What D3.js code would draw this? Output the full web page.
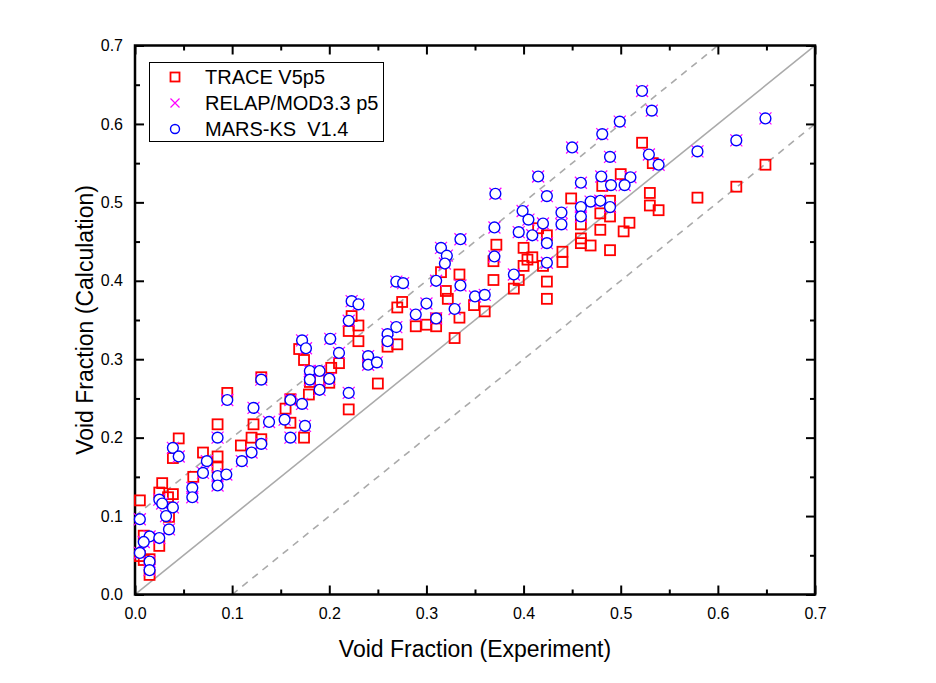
<!DOCTYPE html>
<html>
<head>
<meta charset="utf-8">
<script src="https://cdn.jsdelivr.net/npm/d3@7"></script>
<style>
  html, body { margin: 0; padding: 0; background: #fff; }
  text { font-family: "Liberation Sans", Arial, sans-serif; fill: #000; }
</style>
</head>
<body>
<svg id="chart" width="936" height="683"></svg>
<script>
// ---- Data ----
const traceX = [0.522,0.533,0.500,0.481,0.449,0.489,0.479,0.489,0.459,0.479,0.509,0.503,0.530,0.530,0.539,0.579,0.619,0.649,
  0.459,0.459,0.469,0.489,0.424,0.440,0.440,0.424,0.424,0.415,0.372,0.400,0.409,0.404,0.400,0.420,0.369,0.369,0.395,0.390,
  0.315,0.334,0.320,0.322,0.275,0.270,0.349,0.360,0.334,0.310,0.300,0.289,0.310,0.329,
  0.223,0.230,0.220,0.230,0.270,0.260,0.174,0.202,0.210,0.169,0.180,0.190,0.200,0.179,0.250,0.220,0.174,0.240,
  0.130,0.095,0.155,0.160,0.122,0.085,0.160,0.045,0.039,0.070,0.085,0.109,0.120,0.130,0.085,0.060,
  0.028,0.025,0.039,0.034,0.005,0.035,0.009,0.025,0.005,0.009,0.015,0.015];
const traceY = [0.576,0.550,0.536,0.521,0.505,0.502,0.486,0.482,0.472,0.465,0.474,0.463,0.512,0.496,0.490,0.506,0.520,0.548,
  0.454,0.448,0.445,0.439,0.458,0.437,0.424,0.399,0.377,0.467,0.446,0.442,0.430,0.427,0.419,0.419,0.425,0.401,0.401,0.390,
  0.411,0.408,0.387,0.377,0.373,0.366,0.369,0.361,0.353,0.352,0.344,0.342,0.342,0.327,
  0.355,0.343,0.336,0.323,0.319,0.316,0.299,0.289,0.295,0.313,0.271,0.273,0.270,0.255,0.269,0.236,0.200,0.297,
  0.277,0.257,0.237,0.219,0.217,0.217,0.249,0.199,0.174,0.181,0.176,0.190,0.200,0.198,0.162,0.150,
  0.142,0.130,0.128,0.124,0.120,0.099,0.075,0.062,0.049,0.044,0.045,0.025];

const marsX = [0.522,0.532,0.499,0.481,0.450,0.489,0.649,0.619,0.579,0.529,0.539,0.510,0.480,0.490,0.504,0.459,0.424,0.415,
  0.469,0.479,0.459,0.489,0.439,0.439,0.459,0.420,0.424,0.424,0.371,0.399,0.405,0.370,0.395,0.409,0.335,0.315,0.321,0.319,
  0.370,0.390,0.310,0.335,0.269,0.276,0.350,0.360,0.300,0.289,0.329,0.269,0.310,0.223,0.230,0.220,0.260,0.260,0.201,0.172,
  0.176,0.210,0.240,0.240,0.249,0.180,0.190,0.180,0.200,0.190,0.220,0.172,0.175,0.130,0.160,0.095,0.122,0.138,0.154,0.160,
  0.085,0.039,0.045,0.074,0.070,0.085,0.085,0.094,0.110,0.120,0.130,0.059,0.059,0.025,0.028,0.039,0.032,0.035,0.005,
  0.015,0.025,0.009,0.005,0.015,0.015];
const marsY = [0.642,0.617,0.603,0.587,0.570,0.558,0.607,0.579,0.565,0.561,0.548,0.532,0.533,0.522,0.522,0.525,0.508,0.533,
  0.501,0.502,0.494,0.494,0.487,0.472,0.482,0.473,0.448,0.423,0.511,0.489,0.478,0.468,0.462,0.458,0.453,0.442,0.432,0.422,
  0.431,0.408,0.400,0.394,0.399,0.397,0.380,0.382,0.371,0.357,0.364,0.341,0.352,0.374,0.370,0.349,0.332,0.323,0.326,0.324,
  0.314,0.308,0.304,0.293,0.296,0.285,0.285,0.274,0.275,0.261,0.257,0.243,0.215,0.274,0.248,0.248,0.238,0.220,0.223,0.200,
  0.200,0.187,0.176,0.170,0.155,0.151,0.139,0.153,0.170,0.181,0.192,0.136,0.124,0.121,0.116,0.111,0.100,0.083,0.096,
  0.074,0.072,0.067,0.053,0.042,0.031];

// RELAP/MOD3.3 results coincide with the MARS-KS points in the picture
const relapX = marsX.slice();
const relapY = marsY.slice();

const majorTicks = [0.0,0.1,0.2,0.3,0.4,0.5,0.6,0.7];
const minorTicks = [0.05,0.15,0.25,0.35,0.45,0.55,0.65];
const refLines = [ {offset: 0, dashed: false}, {offset: 0.1, dashed: true}, {offset: -0.1, dashed: true} ];
const legendNames = ["TRACE V5p5", "RELAP/MOD3.3 p5", "MARS-KS  V1.4"];

// ---- Drawing ----
const svg = d3.select("#chart");
svg.append("rect").attr("width", 936).attr("height", 683).attr("fill", "#fff");

const x = d3.scaleLinear().domain([0, 0.7]).range([135, 815]);
const y = d3.scaleLinear().domain([0, 0.7]).range([594.5, 45.5]);

const trace = traceX.map((v, i) => ({x: v, y: traceY[i]}));
const relap = relapX.map((v, i) => ({x: v, y: relapY[i]}));
const mars = marsX.map((v, i) => ({x: v, y: marsY[i]}));

// reference lines
svg.append("clipPath").attr("id", "clip").append("rect")
  .attr("x", 135).attr("y", 45.5).attr("width", 680).attr("height", 549);
const lineG = svg.append("g").attr("clip-path", "url(#clip)");
refLines.forEach(r => {
  const x0 = Math.max(0, -r.offset), x1 = Math.min(0.7, 0.7 - r.offset);
  lineG.append("line")
    .attr("x1", x(x0)).attr("y1", y(x0 + r.offset))
    .attr("x2", x(x1)).attr("y2", y(x1 + r.offset))
    .attr("stroke", "#aaaaaa").attr("stroke-width", 1.6)
    .attr("stroke-dasharray", r.dashed ? "7,6" : null);
});

const fmt = d3.format(".1f");
function styleAxis(g) {
  g.select(".domain").remove();
  g.selectAll(".tick line").attr("stroke", "#000").attr("stroke-width", 2);
  g.selectAll(".tick text").attr("font-size", 16).attr("fill", "#000");
}
// bottom
svg.append("g").attr("transform", "translate(0,594.5)")
  .call(d3.axisBottom(x).tickValues(majorTicks).tickSize(-9).tickPadding(13).tickFormat(fmt)).call(styleAxis);
svg.append("g").attr("transform", "translate(0,594.5)")
  .call(d3.axisBottom(x).tickValues(minorTicks).tickSize(-5).tickFormat("")).call(styleAxis);
// top
svg.append("g").attr("transform", "translate(0,45.5)")
  .call(d3.axisTop(x).tickValues(majorTicks).tickSize(-9).tickFormat("")).call(styleAxis);
svg.append("g").attr("transform", "translate(0,45.5)")
  .call(d3.axisTop(x).tickValues(minorTicks).tickSize(-5).tickFormat("")).call(styleAxis);
// left
svg.append("g").attr("transform", "translate(135,0)")
  .call(d3.axisLeft(y).tickValues(majorTicks).tickSize(-9).tickPadding(12).tickFormat(fmt)).call(styleAxis);
svg.append("g").attr("transform", "translate(135,0)")
  .call(d3.axisLeft(y).tickValues(minorTicks).tickSize(-5).tickFormat("")).call(styleAxis);
// right
svg.append("g").attr("transform", "translate(815,0)")
  .call(d3.axisRight(y).tickValues(majorTicks).tickSize(-9).tickFormat("")).call(styleAxis);
svg.append("g").attr("transform", "translate(815,0)")
  .call(d3.axisRight(y).tickValues(minorTicks).tickSize(-5).tickFormat("")).call(styleAxis);

// frame
svg.append("rect").attr("x", 135).attr("y", 45.5).attr("width", 680).attr("height", 549)
  .attr("fill", "none").attr("stroke", "#000").attr("stroke-width", 2.5);

// markers
const SQ = 10, XR = 6, CR = 5.4;
svg.append("g").selectAll("rect").data(trace).join("rect")
  .attr("x", d => x(d.x) - SQ / 2).attr("y", d => y(d.y) - SQ / 2)
  .attr("width", SQ).attr("height", SQ)
  .attr("fill", "none").attr("stroke", "#ff0000").attr("stroke-width", 1.8);
svg.append("g").selectAll("path").data(relap).join("path")
  .attr("d", d => `M${x(d.x)-XR},${y(d.y)-XR}L${x(d.x)+XR},${y(d.y)+XR}M${x(d.x)-XR},${y(d.y)+XR}L${x(d.x)+XR},${y(d.y)-XR}`)
  .attr("stroke", "#ff00ff").attr("stroke-width", 1.2).attr("fill", "none");
svg.append("g").selectAll("circle").data(mars).join("circle")
  .attr("cx", d => x(d.x)).attr("cy", d => y(d.y)).attr("r", CR)
  .attr("fill", "#fff").attr("stroke", "#0000ff").attr("stroke-width", 1.4);

// legend
const lg = svg.append("g");
lg.append("rect").attr("x", 149.5).attr("y", 62.5).attr("width", 234).attr("height", 79)
  .attr("fill", "#fff").attr("stroke", "#000").attr("stroke-width", 1);
const ly = [77, 103, 129];
lg.append("rect").attr("x", 175 - 4.5).attr("y", ly[0] - 4.5).attr("width", 9).attr("height", 9)
  .attr("fill", "none").attr("stroke", "#ff0000").attr("stroke-width", 1.8);
lg.append("path").attr("d", `M${175-4.5},${ly[1]-4.5}L${175+4.5},${ly[1]+4.5}M${175-4.5},${ly[1]+4.5}L${175+4.5},${ly[1]-4.5}`)
  .attr("stroke", "#ff00ff").attr("stroke-width", 1.2);
lg.append("circle").attr("cx", 175).attr("cy", ly[2]).attr("r", 4.5)
  .attr("fill", "#fff").attr("stroke", "#0000ff").attr("stroke-width", 1.4);
legendNames.forEach((n, i) => {
  lg.append("text").attr("x", 205).attr("y", ly[i] + 7).attr("font-size", 20)
    .attr("xml:space", "preserve").style("white-space", "pre").text(n);
});

// axis titles
svg.append("text").attr("x", 475).attr("y", 657).attr("text-anchor", "middle")
  .attr("font-size", 23).text("Void Fraction (Experiment)");
svg.append("text").attr("transform", "translate(93,320) rotate(-90)").attr("text-anchor", "middle")
  .attr("font-size", 23).text("Void Fraction (Calculation)");
</script>
</body>
</html>
